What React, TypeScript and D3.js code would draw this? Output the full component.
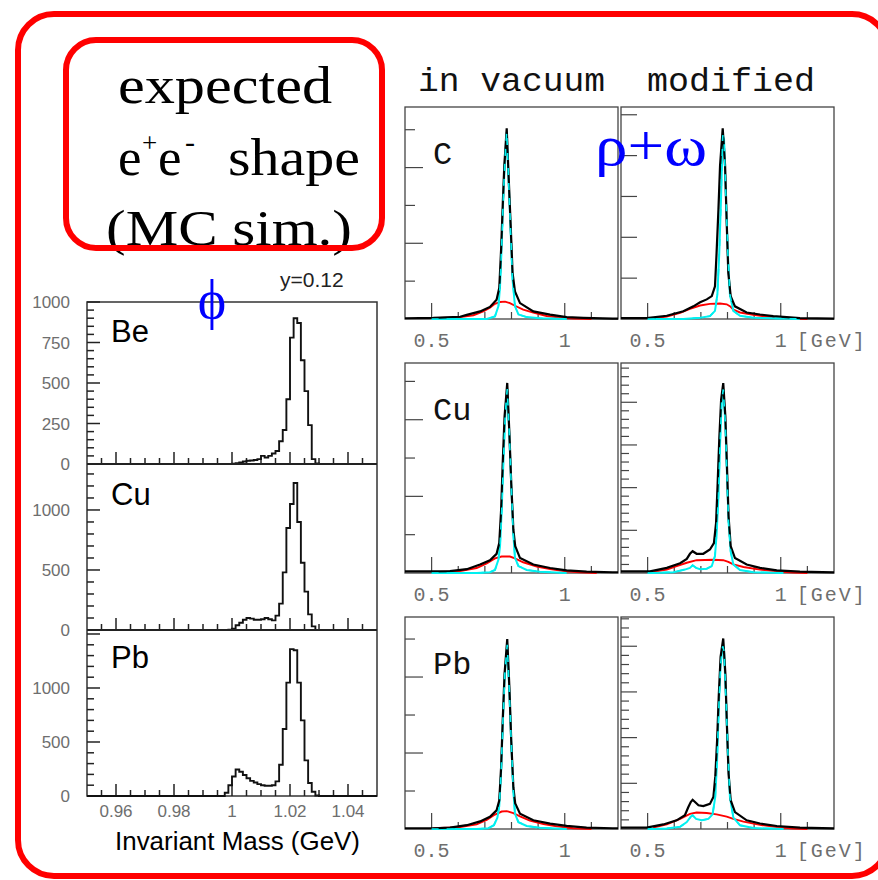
import React from 'react';
import * as d3 from 'd3';

// ---- phi histograms (left), counts per bin ----
const PHI_BIN_START = 0.9975;
const PHI_BIN_WIDTH = 0.00125;
const phiBe = [0, 0, 2, 5, 10, 15, 20, 22, 25, 30, 50, 40, 50, 65, 80, 140, 210, 400, 780, 900, 870, 640, 450, 240, 30, 3];
const phiCu = [0, 3, 10, 40, 60, 85, 100, 95, 85, 85, 90, 100, 90, 80, 120, 220, 480, 850, 1050, 1225, 900, 560, 320, 130, 30, 0];
const phiPb = [30, 100, 180, 245, 225, 195, 165, 140, 125, 110, 100, 95, 95, 100, 135, 290, 620, 1050, 1360, 1350, 1050, 700, 330, 120, 40, 5];
const phiXTicks = [0.96, 0.98, 1, 1.02, 1.04];
const phiBeLabels = [0, 250, 500, 750, 1000];
const phiCuLabels = [0, 500, 1000];
const phiPbLabels = [0, 500, 1000];

// ---- rho/omega spectra (right), [mass GeV, yield a.u.] ----
type P = [number, number];
const cVacBlack: P[] = [[0.4,0.02],[0.506,0.03],[0.607,0.06],[0.632,0.11],[0.682,0.2],[0.719,0.32],[0.744,0.51],[0.754,0.82],[0.761,1.84],[0.767,3.0],[0.773,4.05],[0.782,5.04],[0.789,3.8],[0.797,2.46],[0.804,1.22],[0.813,0.73],[0.832,0.42],[0.882,0.2],[0.945,0.115],[1.007,0.05],[1.07,0.03],[1.18,0.01],[1.2,0.01]];
const cVacRed: P[] = [[0.506,0.02],[0.607,0.05],[0.657,0.1],[0.694,0.2],[0.719,0.3],[0.738,0.4],[0.757,0.45],[0.776,0.46],[0.794,0.42],[0.813,0.35],[0.844,0.25],[0.882,0.17],[0.932,0.08],[0.982,0.04],[1.032,0.01],[1.1,0]];
const cVacCyan: P[] = [[0.5,0],[0.707,0],[0.738,0.07],[0.751,0.34],[0.757,0.87],[0.763,1.93],[0.769,3.17],[0.776,4.3],[0.782,4.94],[0.789,3.7],[0.797,2.28],[0.804,1.04],[0.813,0.34],[0.826,0.12],[0.857,0.05],[0.907,0.02],[1.007,0]];

const cModBlack: P[] = [[0.4,0.02],[0.496,0.02],[0.572,0.08],[0.634,0.19],[0.672,0.31],[0.697,0.41],[0.722,0.48],[0.741,0.56],[0.753,0.8],[0.759,1.62],[0.766,2.69],[0.772,3.75],[0.782,4.67],[0.791,3.75],[0.797,2.36],[0.803,1.13],[0.812,0.56],[0.828,0.31],[0.872,0.16],[0.922,0.11],[0.972,0.07],[1.072,0.02],[1.2,0.01]];
const cModRed: P[] = [[0.521,0.02],[0.572,0.06],[0.622,0.15],[0.659,0.25],[0.697,0.33],[0.734,0.37],[0.772,0.38],[0.797,0.36],[0.812,0.3],[0.822,0.23],[0.847,0.16],[0.897,0.1],[0.947,0.06],[0.997,0.03],[1.047,0.01],[1.1,0]];
const cModCyan: P[] = [[0.5,0],[0.634,0],[0.697,0.03],[0.734,0.07],[0.753,0.2],[0.762,0.6],[0.769,1.6],[0.776,3.0],[0.782,4.5],[0.787,4.4],[0.794,3.0],[0.802,1.5],[0.809,0.6],[0.822,0.2],[0.847,0.08],[0.897,0.03],[1.072,0]];

const cuVacBlack: P[] = [[0.4,0.04],[0.506,0.04],[0.569,0.05],[0.632,0.1],[0.682,0.22],[0.719,0.33],[0.744,0.5],[0.754,0.78],[0.761,1.65],[0.767,2.87],[0.774,4.09],[0.784,4.96],[0.792,3.65],[0.799,2.35],[0.807,1.13],[0.814,0.7],[0.832,0.39],[0.882,0.22],[0.945,0.13],[1.007,0.07],[1.082,0.035],[1.18,0.02],[1.2,0.02]];
const cuVacRed: P[] = [[0.506,0.02],[0.607,0.05],[0.669,0.13],[0.707,0.25],[0.738,0.38],[0.763,0.43],[0.794,0.43],[0.813,0.38],[0.844,0.28],[0.895,0.17],[0.945,0.1],[0.995,0.05],[1.057,0.02],[1.12,0]];
const cuVacCyan: P[] = [[0.5,0],[0.669,0],[0.719,0.02],[0.738,0.08],[0.751,0.35],[0.757,0.7],[0.763,1.6],[0.769,2.8],[0.777,4.2],[0.784,4.8],[0.792,3.6],[0.799,2.3],[0.807,1.0],[0.813,0.4],[0.826,0.18],[0.857,0.08],[0.907,0.03],[1.007,0]];

const cuModBlack: P[] = [[0.4,0.04],[0.509,0.04],[0.572,0.12],[0.622,0.23],[0.647,0.33],[0.659,0.45],[0.669,0.51],[0.684,0.45],[0.709,0.45],[0.734,0.55],[0.749,0.7],[0.757,1.17],[0.763,2.1],[0.769,3.12],[0.776,4.06],[0.784,4.45],[0.792,3.67],[0.798,2.5],[0.804,1.33],[0.812,0.63],[0.828,0.35],[0.872,0.2],[0.922,0.12],[0.985,0.06],[1.072,0.03],[1.2,0.015]];
const cuModRed: P[] = [[0.521,0.03],[0.572,0.08],[0.609,0.16],[0.647,0.24],[0.684,0.3],[0.747,0.31],[0.784,0.3],[0.803,0.26],[0.822,0.2],[0.86,0.14],[0.922,0.08],[0.985,0.04],[1.047,0.01],[1.1,0]];
const cuModCyan: P[] = [[0.5,0],[0.521,0],[0.597,0.02],[0.64,0.08],[0.659,0.12],[0.669,0.18],[0.682,0.12],[0.697,0.09],[0.722,0.1],[0.741,0.16],[0.753,0.4],[0.759,0.9],[0.766,1.8],[0.772,3.0],[0.778,4.0],[0.784,4.3],[0.792,3.5],[0.798,2.3],[0.804,1.2],[0.812,0.5],[0.822,0.2],[0.847,0.07],[0.897,0.02],[1.01,0]];

const pbVacBlack: P[] = [[0.4,0.02],[0.506,0.02],[0.569,0.035],[0.632,0.1],[0.682,0.2],[0.719,0.32],[0.744,0.49],[0.754,0.75],[0.761,1.63],[0.767,2.86],[0.774,4.09],[0.784,5.0],[0.792,3.74],[0.799,2.33],[0.807,1.1],[0.814,0.67],[0.832,0.4],[0.882,0.23],[0.945,0.14],[1.007,0.08],[1.082,0.035],[1.18,0.02],[1.2,0.02]];
const pbVacRed: P[] = [[0.506,0.02],[0.607,0.05],[0.669,0.12],[0.707,0.24],[0.738,0.38],[0.763,0.46],[0.782,0.47],[0.807,0.42],[0.832,0.33],[0.869,0.22],[0.92,0.13],[0.97,0.07],[1.032,0.02],[1.1,0]];
const pbVacCyan: P[] = [[0.5,0],[0.669,0],[0.713,0.02],[0.734,0.1],[0.747,0.3],[0.754,0.6],[0.761,1.5],[0.767,2.7],[0.775,4.1],[0.784,4.85],[0.792,3.6],[0.799,2.3],[0.807,1.0],[0.813,0.4],[0.826,0.18],[0.857,0.08],[0.907,0.03],[1.007,0]];

const pbModBlack: P[] = [[0.4,0.03],[0.496,0.03],[0.559,0.1],[0.609,0.19],[0.64,0.3],[0.653,0.48],[0.662,0.59],[0.669,0.64],[0.678,0.59],[0.691,0.52],[0.709,0.5],[0.734,0.55],[0.747,0.7],[0.754,1.14],[0.761,1.94],[0.767,2.89],[0.774,3.77],[0.784,4.17],[0.792,3.4],[0.798,2.23],[0.804,1.21],[0.812,0.63],[0.828,0.37],[0.872,0.19],[0.922,0.12],[0.985,0.066],[1.072,0.03],[1.2,0.015]];
const pbModRed: P[] = [[0.521,0.03],[0.572,0.1],[0.622,0.22],[0.659,0.33],[0.684,0.36],[0.722,0.35],[0.759,0.32],[0.797,0.27],[0.822,0.22],[0.86,0.16],[0.922,0.09],[0.985,0.04],[1.047,0.01],[1.1,0]];
const pbModCyan: P[] = [[0.5,0],[0.521,0],[0.572,0.01],[0.622,0.05],[0.647,0.15],[0.662,0.27],[0.669,0.3],[0.682,0.22],[0.703,0.19],[0.728,0.22],[0.744,0.32],[0.754,0.7],[0.761,1.5],[0.767,2.6],[0.774,3.6],[0.782,4.0],[0.787,3.9],[0.794,2.9],[0.802,1.6],[0.809,0.7],[0.822,0.25],[0.847,0.08],[0.897,0.02],[1.01,0]];

const targets = ['C', 'Cu', 'Pb'];
const massTicks = [0.5, 1];

const RED = '#ff0000';
const BLUE = '#0000ff';
const CYAN = '#00f0f0';
const GREY = '#6e6e6e';
const SANS = 'Liberation Sans, Arial, sans-serif';
const MONO = 'Liberation Mono, Courier New, monospace';
const SERIF = 'Liberation Serif, Times New Roman, serif';

const phiX = d3.scaleLinear().domain([0.95, 1.05]).range([87, 377]);

function PhiPanel({ counts, yMax, top, bottom, major, minor, labels, name, nameY }:
  { counts: number[]; yMax: number; top: number; bottom: number; major: number; minor: number; labels: number[]; name: string; nameY: number }) {
  const y = d3.scaleLinear().domain([0, yMax]).range([bottom, top]);
  const end = PHI_BIN_START + counts.length * PHI_BIN_WIDTH;
  const pts: P[] = [[0.95, 0], ...counts.map((c, i) => [PHI_BIN_START + i * PHI_BIN_WIDTH, c] as P), [end, 0], [1.05, 0]];
  const line = d3.line<P>().x(d => phiX(d[0])).y(d => y(d[1])).curve(d3.curveStepAfter);
  const yMinor = d3.range(1, Math.floor(yMax / minor) + 1).map(i => i * minor);
  const xMinor = d3.range(1, 20).map(i => 0.95 + i * 0.005);
  return (
    <g>
      {yMinor.map(v => {
        const isMajor = Math.abs(v / major - Math.round(v / major)) < 1e-6;
        return <line key={v} x1={87} x2={87 + (isMajor ? 13 : 7)} y1={y(v)} y2={y(v)} stroke="#222" strokeWidth={1.5} />;
      })}
      {xMinor.map((v, i) => {
        const isMajor = phiXTicks.some(t => Math.abs(t - v) < 1e-6);
        return <line key={i} x1={phiX(v)} x2={phiX(v)} y1={bottom} y2={bottom - (isMajor ? 12 : 6)} stroke="#222" strokeWidth={1.5} />;
      })}
      <path d={line(pts) || ''} fill="none" stroke="#111" strokeWidth={1.9} />
      {labels.map(v => (
        <text key={v} x={70} y={y(v)} dy="0.36em" textAnchor="end" fontFamily={SANS} fontSize={17} fill={GREY}>{v}</text>
      ))}
      <text x={111} y={nameY} fontFamily={SANS} fontSize={31} fill="#000">{name}</text>
    </g>
  );
}

const massX0 = d3.scaleLinear().domain([0.4, 1.2]).range([405, 618]);
const massX1 = d3.scaleLinear().domain([0.4, 1.2]).range([621, 834]);

function MesonPanel({ x, top, bottom, yMax, black, red, cyan, tickMode, label, unit }:
  { x: d3.ScaleLinear<number, number>; top: number; bottom: number; yMax: number; black: P[]; red: P[]; cyan: P[]; tickMode: string; label?: string; unit?: boolean }) {
  const y = d3.scaleLinear().domain([0, yMax]).range([bottom, top]);
  const line = d3.line<P>().x(d => x(d[0])).y(d => y(d[1]));
  const left = x.range()[0];
  const right = x.range()[1];
  let yTicks: { v: number; len: number }[] = [];
  if (tickMode === 'vac') {
    yTicks = d3.range(1, Math.floor(yMax) + 1).map(v => ({ v, len: v % 2 === 0 ? 18 : 10 }));
  } else if (tickMode === 'major') {
    yTicks = d3.range(1, Math.floor(yMax) + 1).map(v => ({ v, len: 16 }));
  } else {
    yTicks = d3.range(1, Math.floor(yMax / 0.2) + 1).map(i => ({ v: i * 0.2, len: i % 5 === 0 ? 16 : 8 }));
  }
  const xMinor = d3.range(1, 8).map(i => 0.4 + i * 0.1);
  return (
    <g>
      <rect x={left} y={top} width={right - left} height={bottom - top} fill="#fff" stroke="#444" strokeWidth={1.3} />
      {yTicks.map((t, i) => (
        <line key={i} x1={left} x2={left + t.len} y1={y(t.v)} y2={y(t.v)} stroke="#444" strokeWidth={1.2} />
      ))}
      {xMinor.map((v, i) => {
        const isMajor = massTicks.some(t => Math.abs(t - v) < 1e-6);
        return <line key={i} x1={x(v)} x2={x(v)} y1={bottom} y2={bottom - (isMajor ? 16 : 7)} stroke="#444" strokeWidth={1.2} />;
      })}
      <path d={line(red) || ''} fill="none" stroke={RED} strokeWidth={1.9} />
      <path d={line(cyan) || ''} fill="none" stroke={CYAN} strokeWidth={2} />
      <path d={line(black) || ''} fill="none" stroke="#000" strokeWidth={2.2} />
      <path d={line(cyan) || ''} fill="none" stroke={CYAN} strokeWidth={1.6} strokeDasharray="7,8" />
      {label && <text x={433} y={top + 57} fontFamily={MONO} fontSize={32} fill="#111">{label}</text>}
      <text x={x(0.5)} y={bottom + 28} textAnchor="middle" fontFamily={MONO} fontSize={20} fill={GREY}>0.5</text>
      <text x={x(1)} y={bottom + 28} textAnchor="middle" fontFamily={MONO} fontSize={20} fill={GREY}>1</text>
      {unit && <text x={x(1) + 16} y={bottom + 28} fontFamily={MONO} fontSize={20} fill={GREY} textLength={68} lengthAdjust="spacing">[GeV]</text>}
    </g>
  );
}

const rows = [
  { top: 107, bottom: 319, vac: [cVacBlack, cVacRed, cVacCyan], mod: [cModBlack, cModRed, cModCyan], yVac: 5.6, yMod: 5.19, modTicks: 'major' },
  { top: 363, bottom: 573, vac: [cuVacBlack, cuVacRed, cuVacCyan], mod: [cuModBlack, cuModRed, cuModCyan], yVac: 5.48, yMod: 4.92, modTicks: 'minor' },
  { top: 617, bottom: 829, vac: [pbVacBlack, pbVacRed, pbVacCyan], mod: [pbModBlack, pbModRed, pbModCyan], yVac: 5.58, yMod: 4.64, modTicks: 'minor' },
];

export default function App() {
  return (
    <div style={{ position: 'absolute', left: 0, top: 0 }}>
      <svg width={878} height={880} style={{ display: 'block', background: '#fff' }}>
        {/* phi panels */}
        <rect x={87} y={302} width={290} height={494} fill="#fff" stroke="#333" strokeWidth={1.5} />
        <PhiPanel counts={phiBe} yMax={1000} top={302} bottom={464} major={250} minor={50} labels={phiBeLabels} name="Be" nameY={342} />
        <PhiPanel counts={phiCu} yMax={1383} top={464} bottom={630} major={500} minor={100} labels={phiCuLabels} name="Cu" nameY={505} />
        <PhiPanel counts={phiPb} yMax={1537} top={630} bottom={796} major={500} minor={100} labels={phiPbLabels} name="Pb" nameY={668} />
        <line x1={87} x2={377} y1={464} y2={464} stroke="#222" strokeWidth={2} />
        <line x1={87} x2={377} y1={630} y2={630} stroke="#222" strokeWidth={2} />
        {phiXTicks.map(v => (
          <text key={v} x={phiX(v)} y={817} textAnchor="middle" fontFamily={SANS} fontSize={17} fill={GREY}>{v}</text>
        ))}
        <text x={115} y={850} fontFamily={SANS} fontSize={25} fill="#000" textLength={245} lengthAdjust="spacingAndGlyphs">Invariant Mass (GeV)</text>
        <text x={280} y={287} fontFamily={SANS} fontSize={21} fill="#222">y=0.12</text>
        <text x={212} y={318} textAnchor="middle" fontFamily={SERIF} fontSize={54} fill={BLUE}>ϕ</text>

        {/* rho + omega panels */}
        <text x={418} y={91} fontFamily={MONO} fontSize={33} fill="#111" textLength={187} lengthAdjust="spacingAndGlyphs">in vacuum</text>
        <text x={647} y={91} fontFamily={MONO} fontSize={33} fill="#111" textLength={168} lengthAdjust="spacingAndGlyphs">modified</text>
        {rows.map((r, i) => (
          <g key={i}>
            <MesonPanel x={massX0} top={r.top} bottom={r.bottom} yMax={r.yVac} black={r.vac[0]} red={r.vac[1]} cyan={r.vac[2]} tickMode="vac" label={targets[i]} />
            <MesonPanel x={massX1} top={r.top} bottom={r.bottom} yMax={r.yMod} black={r.mod[0]} red={r.mod[1]} cyan={r.mod[2]} tickMode={r.modTicks} unit />
          </g>
        ))}
        <text x={651} y={165} fontFamily={SERIF} fontSize={58} fill={BLUE} textAnchor="middle" textLength={112} lengthAdjust="spacingAndGlyphs">ρ+ω</text>

        {/* callout */}
        <text x={118} y={103} fontFamily={SERIF} fontSize={53} fill="#000" textLength={214} lengthAdjust="spacingAndGlyphs">expected</text>
        <text x={118} y={175} fontFamily={SERIF} fontSize={53} fill="#000">e</text>
        <text x={142} y={152} fontFamily={SERIF} fontSize={27} fill="#000">+</text>
        <text x={158} y={175} fontFamily={SERIF} fontSize={53} fill="#000">e</text>
        <text x={185} y={152} fontFamily={SERIF} fontSize={30} fill="#000">-</text>
        <text x={228} y={175} fontFamily={SERIF} fontSize={53} fill="#000" textLength={132} lengthAdjust="spacingAndGlyphs">shape</text>
        <text x={106} y={245} fontFamily={SERIF} fontSize={50} fill="#000" textLength={246} lengthAdjust="spacingAndGlyphs">(MC sim.)</text>
        <rect x={66} y={40} width={316} height={208} rx={30} fill="none" stroke={RED} strokeWidth={6} />
        <rect x={18} y={14} width={870} height={862} rx={36} fill="none" stroke={RED} strokeWidth={6} />
      </svg>
    </div>
  );
}
